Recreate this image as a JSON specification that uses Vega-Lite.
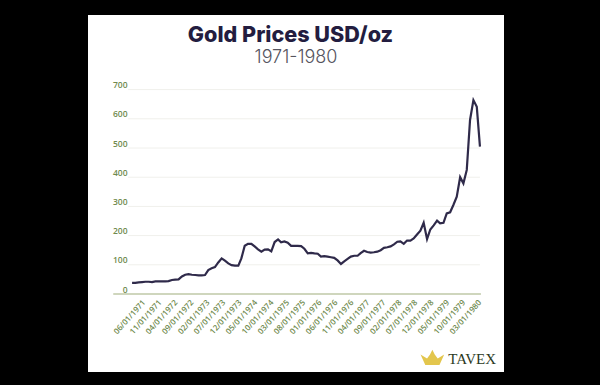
{"$schema":"https://vega.github.io/schema/vega-lite/v6.json","width":416,"height":357,"autosize":{"type":"none"},"padding":{"left":88,"top":15,"right":96,"bottom":13},"background":"#000000","view":{"fill":"#ffffff","stroke":null},"title":{"text":"Gold Prices USD/oz","anchor":"middle","frame":"group","dx":-5.5,"offset":-32,"baseline":"top","font":"Inter","fontSize":21.6,"fontWeight":800,"color":"#231d40"},"datasets":{"gold":[{"date":"1971-06-01","price":38},{"date":"1971-07-01","price":38},{"date":"1971-08-01","price":40},{"date":"1971-09-01","price":41},{"date":"1971-10-01","price":42},{"date":"1971-11-01","price":42},{"date":"1971-12-01","price":41},{"date":"1972-01-01","price":43},{"date":"1972-02-01","price":43},{"date":"1972-03-01","price":43},{"date":"1972-04-01","price":43},{"date":"1972-05-01","price":44},{"date":"1972-06-01","price":48},{"date":"1972-07-01","price":49},{"date":"1972-08-01","price":50},{"date":"1972-09-01","price":60},{"date":"1972-10-01","price":66},{"date":"1972-11-01","price":68},{"date":"1972-12-01","price":66},{"date":"1973-01-01","price":65},{"date":"1973-02-01","price":64},{"date":"1973-03-01","price":64},{"date":"1973-04-01","price":65},{"date":"1973-05-01","price":82},{"date":"1973-06-01","price":88},{"date":"1973-07-01","price":92},{"date":"1973-08-01","price":108},{"date":"1973-09-01","price":122},{"date":"1973-10-01","price":114},{"date":"1973-11-01","price":105},{"date":"1973-12-01","price":99},{"date":"1974-01-01","price":97},{"date":"1974-02-01","price":97},{"date":"1974-03-01","price":122},{"date":"1974-04-01","price":165},{"date":"1974-05-01","price":172},{"date":"1974-06-01","price":172},{"date":"1974-07-01","price":163},{"date":"1974-08-01","price":153},{"date":"1974-09-01","price":145},{"date":"1974-10-01","price":152},{"date":"1974-11-01","price":153},{"date":"1974-12-01","price":146},{"date":"1975-01-01","price":178},{"date":"1975-02-01","price":187},{"date":"1975-03-01","price":177},{"date":"1975-04-01","price":180},{"date":"1975-05-01","price":176},{"date":"1975-06-01","price":165},{"date":"1975-07-01","price":165},{"date":"1975-08-01","price":165},{"date":"1975-09-01","price":164},{"date":"1975-10-01","price":155},{"date":"1975-11-01","price":139},{"date":"1975-12-01","price":141},{"date":"1976-01-01","price":139},{"date":"1976-02-01","price":138},{"date":"1976-03-01","price":128},{"date":"1976-04-01","price":130},{"date":"1976-05-01","price":128},{"date":"1976-06-01","price":126},{"date":"1976-07-01","price":124},{"date":"1976-08-01","price":115},{"date":"1976-09-01","price":103},{"date":"1976-10-01","price":112},{"date":"1976-11-01","price":120},{"date":"1976-12-01","price":128},{"date":"1977-01-01","price":131},{"date":"1977-02-01","price":131},{"date":"1977-03-01","price":140},{"date":"1977-04-01","price":148},{"date":"1977-05-01","price":144},{"date":"1977-06-01","price":142},{"date":"1977-07-01","price":143},{"date":"1977-08-01","price":145},{"date":"1977-09-01","price":150},{"date":"1977-10-01","price":158},{"date":"1977-11-01","price":160},{"date":"1977-12-01","price":163},{"date":"1978-01-01","price":170},{"date":"1978-02-01","price":179},{"date":"1978-03-01","price":180},{"date":"1978-04-01","price":172},{"date":"1978-05-01","price":183},{"date":"1978-06-01","price":183},{"date":"1978-07-01","price":190},{"date":"1978-08-01","price":204},{"date":"1978-09-01","price":217},{"date":"1978-10-01","price":244},{"date":"1978-11-01","price":188},{"date":"1978-12-01","price":221},{"date":"1979-01-01","price":235},{"date":"1979-02-01","price":251},{"date":"1979-03-01","price":242},{"date":"1979-04-01","price":244},{"date":"1979-05-01","price":276},{"date":"1979-06-01","price":280},{"date":"1979-07-01","price":305},{"date":"1979-08-01","price":333},{"date":"1979-09-01","price":400},{"date":"1979-10-01","price":379},{"date":"1979-11-01","price":425},{"date":"1979-12-01","price":596},{"date":"1980-01-01","price":664},{"date":"1980-02-01","price":641},{"date":"1980-03-01","price":505}],"grid":[{"level":0},{"level":100},{"level":200},{"level":300},{"level":400},{"level":500},{"level":600},{"level":700}],"ticks":[{"tick":"1971-06-01"},{"tick":"1971-11-01"},{"tick":"1972-04-01"},{"tick":"1972-09-01"},{"tick":"1973-02-01"},{"tick":"1973-07-01"},{"tick":"1973-12-01"},{"tick":"1974-05-01"},{"tick":"1974-10-01"},{"tick":"1975-03-01"},{"tick":"1975-08-01"},{"tick":"1976-01-01"},{"tick":"1976-06-01"},{"tick":"1976-11-01"},{"tick":"1977-04-01"},{"tick":"1977-09-01"},{"tick":"1978-02-01"},{"tick":"1978-07-01"},{"tick":"1978-12-01"},{"tick":"1979-05-01"},{"tick":"1979-10-01"},{"tick":"1980-03-01"}]},"encoding":{"y":{"type":"quantitative","scale":{"domain":[-267.1,955.5],"nice":false,"zero":false}}},"layer":[{"layer":[{"data":{"name":"grid"},"mark":{"type":"rule","color":"#f0f0ec","strokeWidth":1},"transform":[{"filter":"datum.level > 0"}],"encoding":{"y":{"field":"level","type":"quantitative","axis":{"values":[0,100,200,300,400,500,600,700],"title":null,"orient":"left","offset":-43,"domain":false,"ticks":false,"grid":false,"labelPadding":4,"labelFont":"Open Sans","labelFontSize":8.5,"labelFontWeight":600,"labelColor":"#6f8a4e","labelOffset":-5,"zindex":1}},"x":{"datum":{"year":1971,"month":4,"date":25,"utc":true},"type":"temporal","scale":{"type":"utc","domain":[{"year":1970,"month":4,"date":22,"utc":true},{"year":1980,"month":10,"date":8,"utc":true}]},"axis":null},"x2":{"datum":{"year":1980,"month":3,"date":1,"utc":true}}}},{"data":{"name":"grid"},"mark":{"type":"rule","color":"#cfd6bd","strokeWidth":2},"transform":[{"filter":"datum.level === 0"}],"encoding":{"y":{"field":"level","type":"quantitative"},"x":{"datum":{"year":1970,"month":12,"date":10,"utc":true},"type":"temporal"},"x2":{"datum":{"year":1980,"month":3,"date":10,"utc":true}}}},{"data":{"name":"gold"},"mark":{"type":"line","color":"#2f2a4a","strokeWidth":2.2,"interpolate":"linear"},"encoding":{"x":{"field":"date","type":"temporal"},"y":{"field":"price","type":"quantitative"}}},{"data":{"values":[{"subtitle":"1971-1980"}]},"mark":{"type":"text","align":"center","baseline":"middle","font":"Inter","fontSize":18,"fontWeight":300,"color":"#55545e"},"encoding":{"text":{"field":"subtitle"},"x":{"datum":{"year":1975,"month":7,"date":16,"utc":true},"type":"temporal"},"y":{"datum":808}}},{"data":{"values":[{"brand":"TAVEX"}]},"mark":{"type":"text","align":"left","baseline":"middle","font":"Liberation Serif","fontSize":15,"color":"#2c3a22"},"encoding":{"text":{"field":"brand"},"x":{"datum":{"year":1979,"month":5,"date":15,"utc":true},"type":"temporal"},"y":{"datum":-223}}},{"data":{"values":[{"brand":"crown"}]},"mark":{"type":"point","filled":true,"size":560,"color":"#e3c64d","opacity":1,"shape":"M-1,-0.3 L-0.45,0.05 L-0.2,-0.3 L0,-0.7 L0.2,-0.3 L0.45,0.05 L1,-0.3 L0.6,0.6 L-0.6,0.6 Z"},"encoding":{"x":{"datum":{"year":1978,"month":12,"date":20,"utc":true},"type":"temporal"},"y":{"datum":-219}}}]},{"data":{"name":"ticks"},"mark":{"type":"rule","opacity":0},"encoding":{"x":{"field":"tick","type":"temporal","scale":{"type":"utc","domain":[{"year":1969,"month":12,"date":16,"utc":true},{"year":1980,"month":10,"date":16,"utc":true}]},"axis":{"values":["1971-06-01","1971-11-01","1972-04-01","1972-09-01","1973-02-01","1973-07-01","1973-12-01","1974-05-01","1974-10-01","1975-03-01","1975-08-01","1976-01-01","1976-06-01","1976-11-01","1977-04-01","1977-09-01","1978-02-01","1978-07-01","1978-12-01","1979-05-01","1979-10-01","1980-03-01"],"format":"%m/%d/%Y","title":null,"orient":"bottom","offset":-78,"domain":false,"ticks":false,"grid":false,"labelAngle":-48,"labelAlign":"right","labelBaseline":"middle","labelPadding":7,"labelFont":"Open Sans","labelFontSize":8,"labelFontWeight":600,"labelColor":"#6f8a4e","labelOverlap":false,"labelFlush":false}}}}],"resolve":{"scale":{"x":"independent"},"axis":{"x":"independent"}}}
